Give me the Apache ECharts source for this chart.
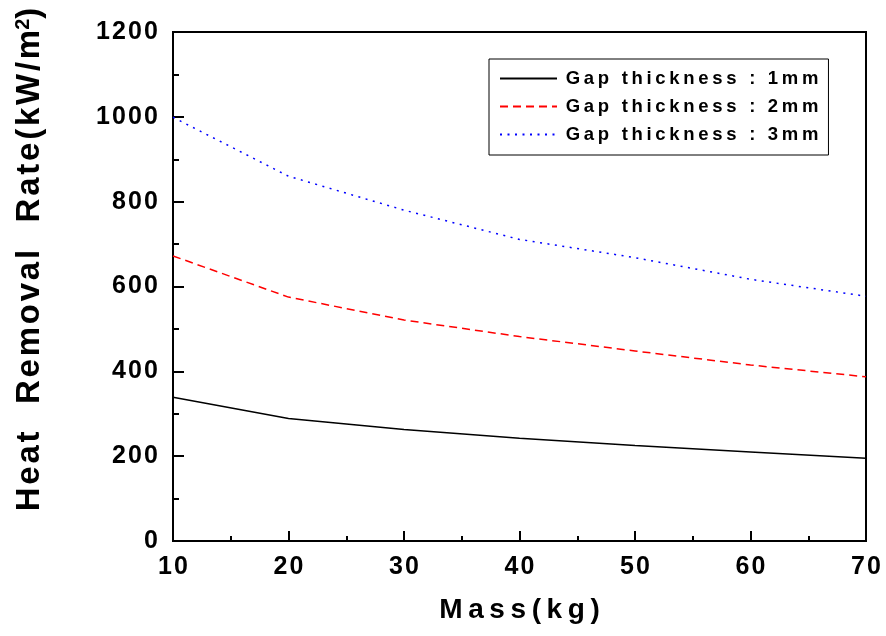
<!DOCTYPE html>
<html>
<head>
<meta charset="utf-8">
<script src="https://cdn.jsdelivr.net/npm/echarts@6/dist/echarts.min.js"></script>
<style>
  html, body { margin: 0; padding: 0; background: #fff; }
  #chart { width: 886px; height: 636px; }
</style>
</head>
<body>
<div id="chart"></div>
<script>
  // data
  const masses = [10, 20, 30, 40, 50, 60, 70]
  const gap1mm = [339, 289, 263, 242, 225, 210, 195]
  const gap2mm = [672, 575, 521, 482, 448, 415, 387]
  const gap3mm = [999, 860, 780, 711, 668, 617, 577]
  const seriesNames = ['Gap thickness : 1mm', 'Gap thickness : 2mm', 'Gap thickness : 3mm']

  const FONT = "'Liberation Sans', Arial, sans-serif"
  const HAIR = '\u200A'
  const THIN = '\u2009'

  // fake letter spacing, the original text is spread out
  function spaced(str, sep) {
    return str.split('').join(sep || HAIR)
  }

  function pairs(ys) {
    return masses.map((m, i) => [m, ys[i]])
  }

  const chart = echarts.init(document.getElementById('chart'))

  const yName = '{t|' + spaced('Heat') + '   ' + spaced('Removal') + '   ' + spaced('Rate(kW/m') + '}{s|2}{t|)}'

  const tickStyle = { color: '#000', width: 2 }

  chart.setOption({
    animation: false,
    backgroundColor: '#fff',
    grid: {
      left: 173,
      right: 20,
      top: 32,
      bottom: 95,
      show: true,
      borderColor: '#000',
      borderWidth: 2
    },
    legend: {
      orient: 'vertical',
      left: 489,
      top: 59,
      padding: [10, 10, 11, 10],
      itemGap: 9,
      itemWidth: 57,
      itemHeight: 14,
      borderColor: '#000',
      borderWidth: 1,
      itemStyle: { opacity: 0 },
      textStyle: {
        fontFamily: FONT,
        fontWeight: 'bold',
        fontSize: 18.5,
        color: '#000'
      },
      formatter: name => THIN + spaced(name, THIN),
      data: seriesNames
    },
    xAxis: {
      type: 'value',
      min: 10,
      max: 70,
      interval: 10,
      name: spaced('Mass(kg)', THIN),
      nameLocation: 'middle',
      nameGap: 55,
      nameTextStyle: {
        fontFamily: FONT,
        fontWeight: 'bold',
        fontSize: 28,
        color: '#000'
      },
      axisLine: { show: true, lineStyle: { color: '#000', width: 2 } },
      axisTick: { show: true, inside: true, length: 10, lineStyle: tickStyle },
      minorTick: { show: true, splitNumber: 2, length: 5, lineStyle: tickStyle },
      splitLine: { show: false },
      axisLabel: {
        margin: 14,
        fontFamily: FONT,
        fontWeight: 'bold',
        fontSize: 25,
        color: '#000',
        formatter: v => spaced(String(v))
      }
    },
    yAxis: {
      type: 'value',
      min: 0,
      max: 1200,
      interval: 200,
      name: yName,
      nameLocation: 'middle',
      nameGap: 126,
      nameTextStyle: {
        padding: [0, 0, 0, 54],
        rich: {
          t: {
            fontFamily: FONT,
            fontWeight: 'bold',
            fontSize: 33,
            color: '#000'
          },
          s: {
            fontFamily: FONT,
            fontWeight: 'bold',
            fontSize: 20,
            color: '#000',
            verticalAlign: 'top',
            padding: [0, 0, 14, 0]
          }
        }
      },
      axisLine: { show: true, lineStyle: { color: '#000', width: 2 } },
      axisTick: { show: true, inside: true, length: 11, lineStyle: tickStyle },
      minorTick: { show: true, splitNumber: 2, length: 6, lineStyle: tickStyle },
      splitLine: { show: false },
      axisLabel: {
        margin: 15,
        fontFamily: FONT,
        fontWeight: 'bold',
        fontSize: 25,
        color: '#000',
        formatter: v => spaced(String(v))
      }
    },
    series: [
      {
        name: seriesNames[0],
        type: 'line',
        symbol: 'none',
        data: pairs(gap1mm),
        lineStyle: { color: '#000', width: 1.5, type: 'solid' },
        itemStyle: { color: '#000' }
      },
      {
        name: seriesNames[1],
        type: 'line',
        symbol: 'none',
        data: pairs(gap2mm),
        lineStyle: { color: '#ff0000', width: 1.5, type: [8, 5] },
        itemStyle: { color: '#ff0000' }
      },
      {
        name: seriesNames[2],
        type: 'line',
        symbol: 'none',
        data: pairs(gap3mm),
        lineStyle: { color: '#0000ff', width: 1.5, type: [2, 5.5] },
        itemStyle: { color: '#0000ff' }
      }
    ]
  })

  window.addEventListener('resize', () => chart.resize())
</script>
</body>
</html>
